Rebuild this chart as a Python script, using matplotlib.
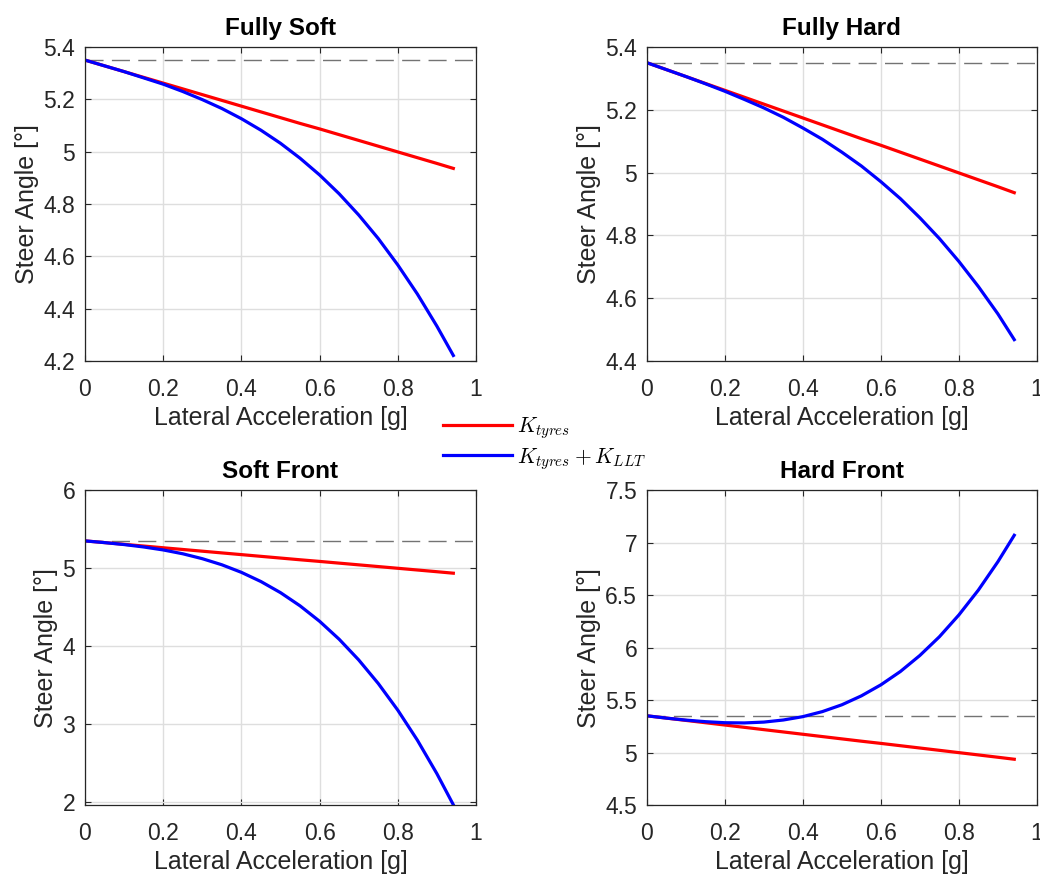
import matplotlib
matplotlib.use("Agg")
import matplotlib.pyplot as plt
from matplotlib.ticker import FuncFormatter

plt.rcParams['font.family'] = ['Liberation Sans', 'DejaVu Sans']
plt.rcParams['mathtext.fontset'] = 'cm'

# lateral acceleration [g]
lat_acc = [0.0, 0.05, 0.1, 0.15, 0.2, 0.25, 0.3, 0.35, 0.4, 0.45,
           0.5, 0.55, 0.6, 0.65, 0.7, 0.75, 0.8, 0.85, 0.9, 0.942]

# steer angle [deg], tyres only (same for all four setups)
k_tyres = [5.350, 5.328, 5.306, 5.284, 5.262, 5.240, 5.218, 5.196, 5.174, 5.152,
           5.130, 5.108, 5.087, 5.065, 5.043, 5.021, 4.999, 4.977, 4.955, 4.936]

# steer angle [deg], tyres + lateral load transfer
fully_soft = [5.350, 5.328, 5.306, 5.282, 5.258, 5.230, 5.199, 5.165, 5.126, 5.082,
              5.032, 4.975, 4.911, 4.839, 4.758, 4.668, 4.567, 4.456, 4.333, 4.221]
fully_hard = [5.350, 5.328, 5.306, 5.283, 5.259, 5.233, 5.206, 5.176, 5.142, 5.106,
              5.065, 5.021, 4.971, 4.917, 4.856, 4.790, 4.717, 4.637, 4.550, 4.468]
soft_front = [5.350, 5.328, 5.303, 5.272, 5.234, 5.185, 5.122, 5.044, 4.947, 4.829,
              4.687, 4.518, 4.320, 4.090, 3.825, 3.523, 3.181, 2.797, 2.367, 1.969]
hard_front = [5.350, 5.328, 5.309, 5.294, 5.284, 5.282, 5.290, 5.310, 5.342, 5.390,
              5.455, 5.540, 5.645, 5.772, 5.925, 6.103, 6.311, 6.548, 6.818, 7.070]

straight_line = 5.35

titles = ['Fully Soft', 'Fully Hard', 'Soft Front', 'Hard Front']
combined = [fully_soft, fully_hard, soft_front, hard_front]
y_limits = [(4.2, 5.4), (4.4, 5.4), (1.966, 6.0), (4.5, 7.5)]
y_ticks = [[4.2, 4.4, 4.6, 4.8, 5.0, 5.2, 5.4],
           [4.4, 4.6, 4.8, 5.0, 5.2, 5.4],
           [2, 3, 4, 5, 6],
           [4.5, 5.0, 5.5, 6.0, 6.5, 7.0, 7.5]]
x_ticks = [0, 0.2, 0.4, 0.6, 0.8, 1.0]

positions = [[0.0817, 0.5884, 0.376, 0.358],
             [0.622, 0.5884, 0.375, 0.358],
             [0.0817, 0.0821, 0.376, 0.359],
             [0.622, 0.0821, 0.375, 0.359]]

dark = (0.15, 0.15, 0.15)
fmt = FuncFormatter(lambda v, p: '%g' % round(v, 3))

fig = plt.figure(figsize=(10.4, 8.77), dpi=100)

for i in range(4):
    ax = fig.add_axes(positions[i])
    ax.grid(True, color=(0.87, 0.87, 0.87), linewidth=1)
    ax.set_axisbelow(True)
    ax.axhline(straight_line, color=(0.45, 0.45, 0.45), linewidth=1, dashes=(13, 6))
    l1, = ax.plot(lat_acc, k_tyres, color=(1, 0, 0), linewidth=2.3,
                  solid_joinstyle='round', label=r'$K_{tyres}$')
    l2, = ax.plot(lat_acc, combined[i], color=(0, 0, 1), linewidth=2.3,
                  solid_joinstyle='round', label=r'$K_{tyres} + K_{LLT}$')
    ax.set_xlim(0, 1)
    ax.set_ylim(*y_limits[i])
    ax.set_xticks(x_ticks)
    ax.set_yticks(y_ticks[i])
    ax.xaxis.set_major_formatter(fmt)
    ax.yaxis.set_major_formatter(fmt)
    ax.tick_params(direction='in', top=True, right=True, length=4, width=0.8,
                   colors=dark, labelsize=16.5)
    ax.tick_params(axis='x', pad=12)
    ax.tick_params(axis='y', pad=7)
    for s in ax.spines.values():
        s.set_color(dark)
        s.set_linewidth(0.9)
    ax.set_xlabel('Lateral Acceleration [g]', fontsize=18, color=dark, labelpad=4)
    ax.set_ylabel('Steer Angle [°]', fontsize=18, color=dark, labelpad=3)
    ax.set_title(titles[i], fontsize=17.5, fontweight='bold', pad=9)

fig.legend(handles=[l1, l2], loc='center left', bbox_to_anchor=(0.426, 0.4943),
           frameon=False, fontsize=15.5, handlelength=3.2, handletextpad=0.25,
           borderpad=0, borderaxespad=0, labelspacing=0.2)

fig.savefig('out.png', dpi=100)
